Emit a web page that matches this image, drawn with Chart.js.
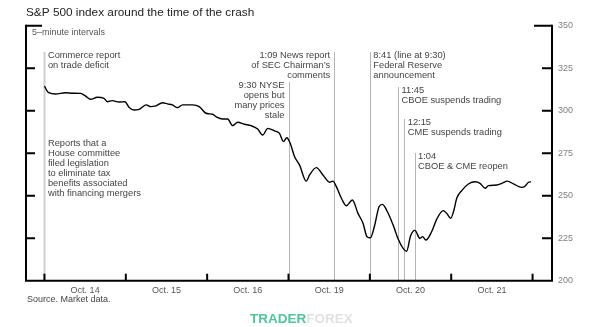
<!DOCTYPE html>
<html>
<head>
<meta charset="utf-8">
<script src="https://cdn.jsdelivr.net/npm/chart.js@4"></script>
<style>
html,body{margin:0;padding:0;background:#fff;}
#wrap{width:600px;height:327px;position:relative;}
</style>
</head>
<body>
<div id="wrap"><canvas id="c" width="600" height="327"></canvas></div>
<script>
// Time in trading-day units (0 = Oct. 14 open, 1 = Oct. 15 open, ...)
const times = [0,0.028,0.053,0.136,0.259,0.349,0.444,0.506,0.567,0.649,0.732,0.772,0.834,0.916,0.990,
1.039,1.101,1.163,1.253,1.307,1.369,1.450,1.512,1.573,1.635,1.697,1.820,1.903,1.985,
2.067,2.109,2.190,2.252,2.313,2.375,2.457,2.540,2.621,2.683,2.745,2.827,2.889,2.938,2.979,
3.021,3.074,3.136,3.218,3.259,3.342,3.423,3.506,3.546,3.588,3.650,3.711,3.785,3.854,3.916,3.965,
4.007,4.060,4.113,4.155,4.205,4.286,4.348,4.409,4.451,4.501,4.554,4.615,4.648,4.689,4.759,4.821,4.903,4.945,4.994,
5.034,5.068,5.129,5.211,5.293,5.355,5.417,5.457,5.561,5.623,5.692,5.766,5.869,5.910,5.951,5.980];
const values = [314.5,312,310.6,309.8,310.6,310.3,310.2,308.6,306.7,307.9,307.3,305.3,305.9,305.1,305.3,
302,300.4,300.8,303.4,302.4,302.8,304.7,304,303.4,301.8,303.4,303.4,302.4,298.5,
297.9,296.5,295.1,295.1,291.2,293.2,292,291.2,289.2,285.7,289.6,288.1,286.7,281.8,284.1,
280.8,273,268,258.6,262.2,266.5,262.2,257.9,258.6,255.3,248.5,244.1,247.5,239.6,233.8,225.9,
225.3,232.8,243.5,244.9,241.6,232.8,224.5,219,217.3,226.5,229.6,224.9,225.9,223.9,228.8,236.1,241.2,239.6,236.7,
241.6,248.5,253,256.9,258.2,257.3,254.4,255.9,256.3,257.3,258.6,256.9,254.9,255.7,257.9,258.2];

const yTicks = [200,225,250,275,300,325,350];
const dayBoundaries = [0,1,2,3,4,5,6];
const dayLabels = ['Oct. 14','Oct. 15','Oct. 16','Oct. 19','Oct. 20','Oct. 21'];

// Event markers: time (day units), top of marker line (index value)
const eventTimes = [0, 3.0, 3.5615, 4.0, 4.346, 4.423, 4.549];
const eventTops  = [334.5, 316.9, 334.5, 334.5, 313.9, 295.1, 275.1];
const eventTexts = [
  ['Commerce report','on trade deficit'],
  ['9:30 NYSE','opens but','many prices','stale'],
  ['1:09 News report','of SEC Chairman\u2019s','comments'],
  ['8:41 (line at 9:30)','Federal Reserve','announcement'],
  ['11:45','CBOE suspends trading'],
  ['12:15','CME suspends trading'],
  ['1:04','CBOE & CME reopen']
];
const eventAlign = ['left','right','right','left','left','left','left'];
const houseNote = ['Reports that a','House committee','filed legislation','to eliminate tax','benefits associated','with financing mergers'];

const titleText = 'S&P 500 index around the time of the crash';
const subText = '5\u2013minute intervals';
const sourceText = 'Source. Market data.';

const FONT = '"Liberation Sans", Arial, sans-serif';

const decor = {
  id: 'decor',
  beforeDatasetsDraw(chart) {
    const ctx = chart.ctx, xs = chart.scales.x, ys = chart.scales.y;
    const bottom = ys.getPixelForValue(200);
    ctx.save();
    eventTimes.forEach((t, i) => {
      const x = Math.round(xs.getPixelForValue(t)) + 0.5;
      ctx.strokeStyle = i === 0 ? '#cfcfcf' : '#b4b4b4';
      ctx.lineWidth = i === 0 ? 2 : 1;
      ctx.beginPath();
      ctx.moveTo(x, ys.getPixelForValue(eventTops[i]));
      ctx.lineTo(x, bottom);
      ctx.stroke();
    });
    ctx.restore();
  },
  afterDraw(chart) {
    const ctx = chart.ctx, xs = chart.scales.x, ys = chart.scales.y;
    const L = xs.getPixelForValue(xs.min), R = xs.getPixelForValue(xs.max);
    const T = ys.getPixelForValue(350), B = ys.getPixelForValue(200);
    ctx.save();
    // axes
    ctx.strokeStyle = '#000';
    ctx.lineWidth = 2;
    ctx.beginPath();
    ctx.moveTo(L, T - 1); ctx.lineTo(L, B); ctx.lineTo(R, B); ctx.lineTo(R, T - 1);
    ctx.stroke();
    // y ticks both sides
    yTicks.forEach(v => {
      if (v === 200) return;
      const y = ys.getPixelForValue(v);
      const lenL = v === 350 ? 16 : 9, lenR = v === 350 ? 18 : 10;
      ctx.beginPath();
      ctx.moveTo(L, y); ctx.lineTo(L + lenL, y);
      ctx.moveTo(R, y); ctx.lineTo(R - lenR, y);
      ctx.stroke();
    });
    // x ticks
    dayBoundaries.forEach(d => {
      const x = xs.getPixelForValue(d);
      ctx.beginPath();
      ctx.moveTo(x, B); ctx.lineTo(x, B - 7);
      ctx.stroke();
    });
    // y labels
    ctx.fillStyle = '#808080';
    ctx.font = '9px ' + FONT;
    ctx.textAlign = 'left';
    ctx.textBaseline = 'middle';
    yTicks.forEach(v => ctx.fillText(String(v), R + 6, ys.getPixelForValue(v)));
    // x labels
    ctx.fillStyle = '#555';
    ctx.textAlign = 'center';
    dayLabels.forEach((lab, i) => {
      const x = (xs.getPixelForValue(dayBoundaries[i]) + xs.getPixelForValue(dayBoundaries[i + 1])) / 2;
      ctx.fillText(lab, x, B + 10);
    });
    // title, subtitle, source
    ctx.textAlign = 'left';
    ctx.fillStyle = '#222';
    ctx.font = '11.8px ' + FONT;
    ctx.fillText(titleText, L, 13);
    ctx.fillStyle = '#555';
    ctx.font = '9px ' + FONT;
    ctx.fillText(subText, L + 6, 33);
    ctx.fillStyle = '#444';
    ctx.fillText(sourceText, L + 1, B + 19);
    // event texts
    ctx.font = '9.3px ' + FONT;
    ctx.fillStyle = '#444';
    eventTimes.forEach((t, i) => {
      const x = xs.getPixelForValue(t);
      const top = ys.getPixelForValue(eventTops[i]);
      const right = eventAlign[i] === 'right';
      ctx.textAlign = right ? 'right' : 'left';
      const tx = right ? x - 4 : x + 3.5;
      eventTexts[i].forEach((line, k) => ctx.fillText(line, tx, top + 3 + k * 10));
    });
    // house committee note
    ctx.textAlign = 'left';
    const hx = xs.getPixelForValue(eventTimes[0]) + 3.5;
    houseNote.forEach((line, k) => ctx.fillText(line, hx, 143.5 + k * 9.9));
    // watermark
    ctx.font = 'bold 13.5px ' + FONT;
    ctx.fillStyle = '#52c49b';
    ctx.fillText('TRADER', 250, 319);
    const w = ctx.measureText('TRADER').width;
    ctx.fillStyle = '#e2e2e2';
    ctx.fillText('FOREX', 250 + w, 319);
    ctx.restore();
  }
};

new Chart(document.getElementById('c'), {
  type: 'line',
  data: {
    datasets: [{
      data: times.map((t, i) => ({ x: t, y: values[i] })),
      borderColor: '#000',
      borderWidth: 1.4,
      pointRadius: 0,
      cubicInterpolationMode: 'monotone',
      fill: false
    }]
  },
  options: {
    responsive: false,
    animation: false,
    devicePixelRatio: 1,
    layout: { padding: { left: 26, right: 48, top: 25.7, bottom: 46.3 } },
    scales: {
      x: { type: 'linear', min: -0.2268, max: 6.239, display: false },
      y: { type: 'linear', min: 200, max: 350, display: false }
    },
    plugins: { legend: { display: false }, tooltip: { enabled: false } }
  },
  plugins: [decor]
});
</script>
</body>
</html>
